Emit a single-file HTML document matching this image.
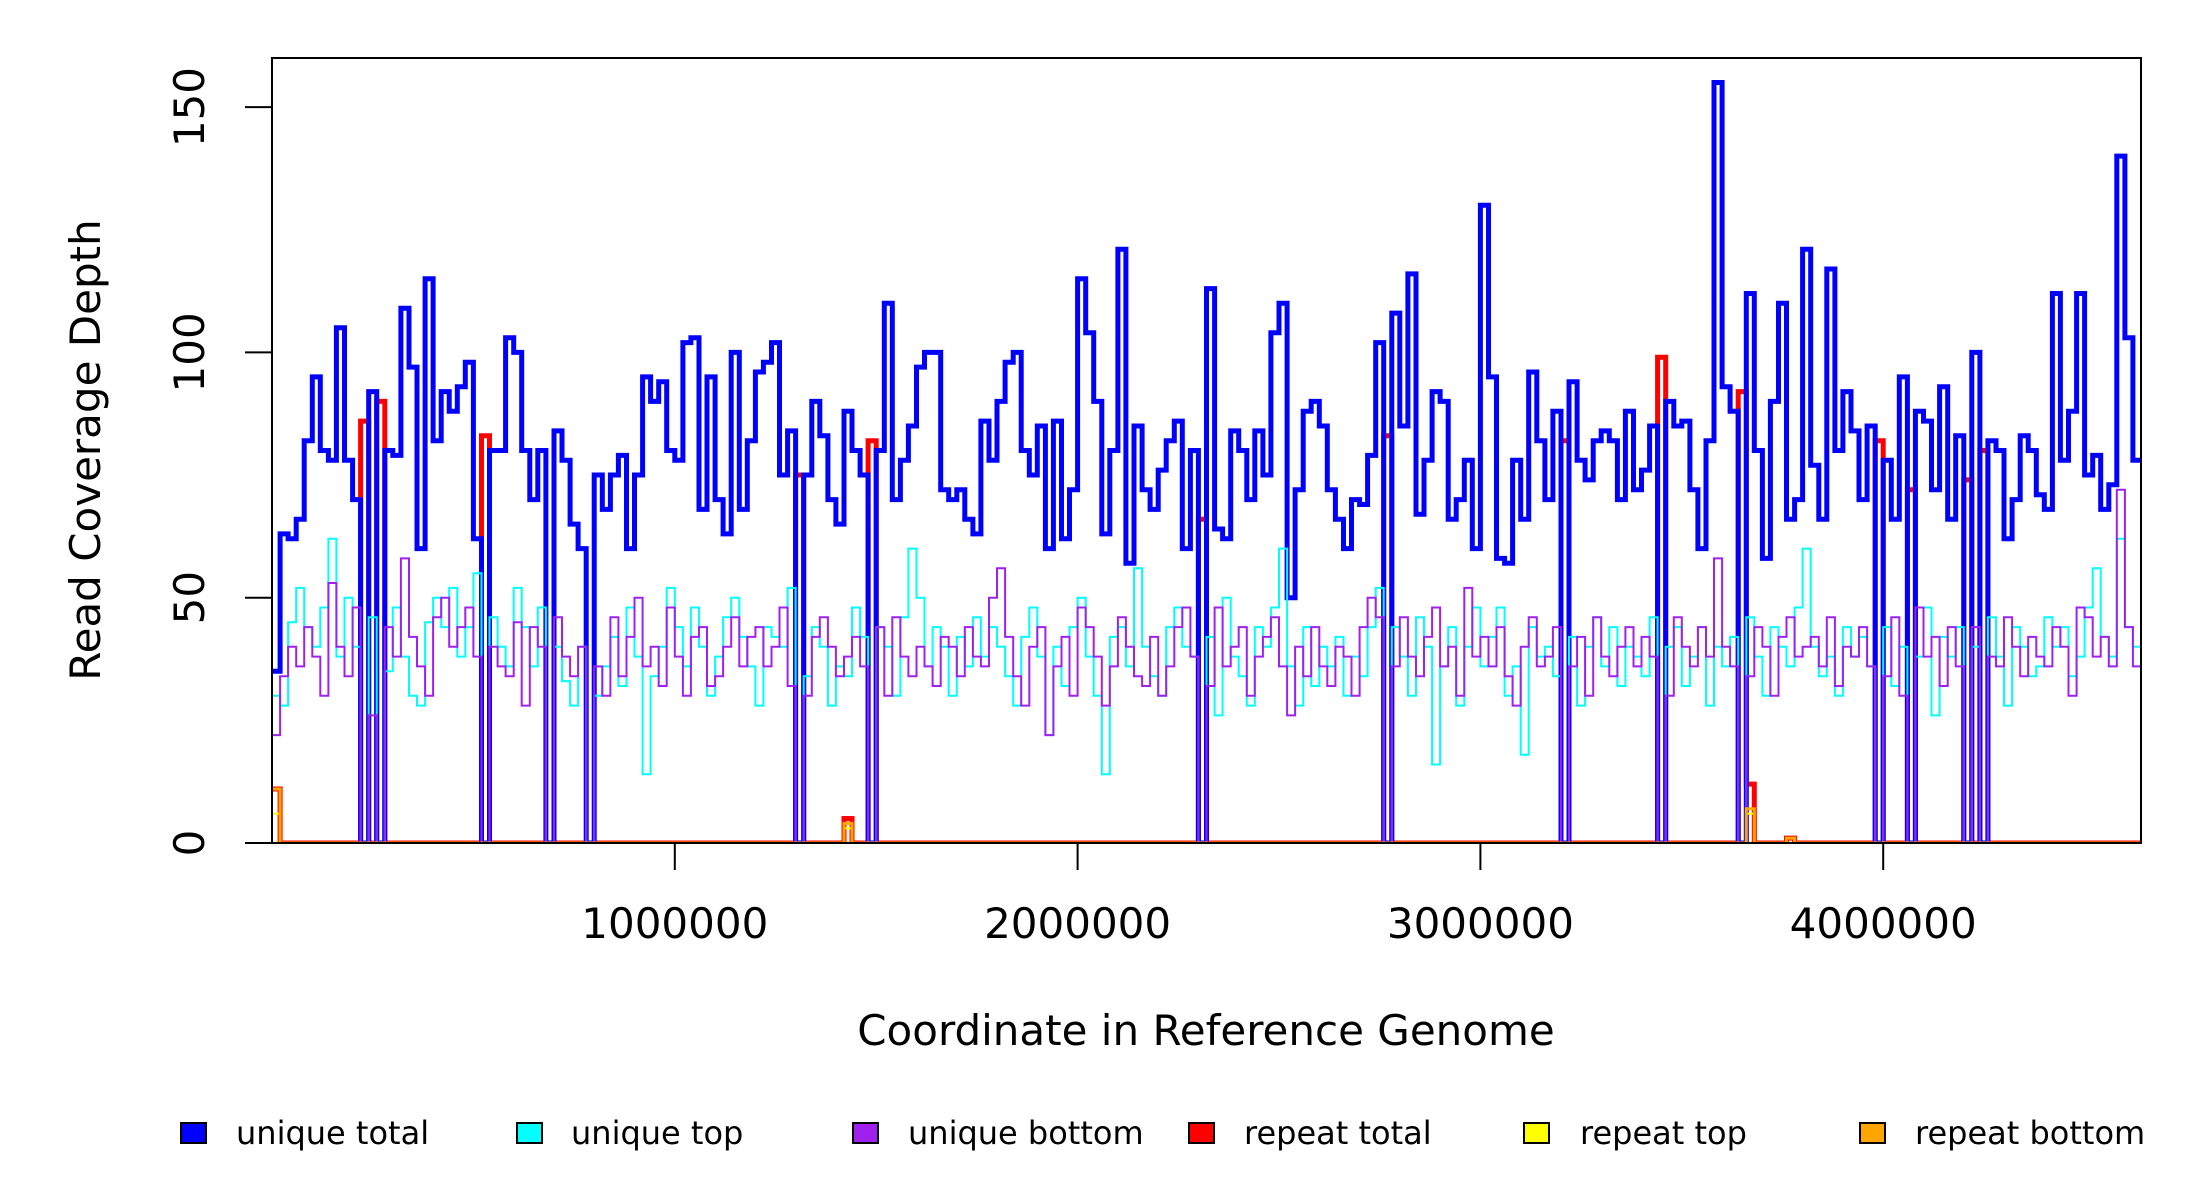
<!DOCTYPE html>
<html><head><meta charset="utf-8"><style>
html,body{margin:0;padding:0;background:#fff;}
svg{display:block;font-family:"DejaVu Sans","Liberation Sans",sans-serif;}
</style></head><body>
<svg id="chart" width="2200" height="1200" viewBox="0 0 2200 1200" xmlns="http://www.w3.org/2000/svg">
<defs><clipPath id="pc"><rect x="272" y="58" width="1869" height="785"/></clipPath></defs>
<g id="series" clip-path="url(#pc)"></g>
<rect x="272" y="58" width="1869" height="785" fill="none" stroke="#000" stroke-width="2"/>
<g id="yaxis"></g>
<g id="xaxis"></g>
<text x="0" y="0" transform="translate(100,450) rotate(-90)" text-anchor="middle" font-size="42">Read Coverage Depth</text>
<text x="1206" y="1045" text-anchor="middle" font-size="42">Coordinate in Reference Genome</text>
<g font-size="32">
 <g><rect x="181" y="1123" width="25" height="20" fill="#0000ff" stroke="#000" stroke-width="2"/><text x="236" y="1144">unique total</text></g>
 <g><rect x="517" y="1123" width="25" height="20" fill="#00ffff" stroke="#000" stroke-width="2"/><text x="571" y="1144">unique top</text></g>
 <g><rect x="853" y="1123" width="25" height="20" fill="#a020f0" stroke="#000" stroke-width="2"/><text x="908" y="1144">unique bottom</text></g>
 <g><rect x="1189" y="1123" width="25" height="20" fill="#ff0000" stroke="#000" stroke-width="2"/><text x="1244" y="1144">repeat total</text></g>
 <g><rect x="1524" y="1123" width="25" height="20" fill="#ffff00" stroke="#000" stroke-width="2"/><text x="1580" y="1144">repeat top</text></g>
 <g><rect x="1860" y="1123" width="25" height="20" fill="#ffa500" stroke="#000" stroke-width="2"/><text x="1915" y="1144">repeat bottom</text></g>
</g>
</svg>
<script>
const binSize = 20000;
const genomeLength = 4640000;
const yTicks = [0, 50, 100, 150];
const xTicks = [1000000, 2000000, 3000000, 4000000];
const xTickLabels = ["1000000", "2000000", "3000000", "4000000"];
const uniqueTotal = [35,63,62,66,82,95,80,78,105,78,
70,0,92,0,80,79,109,97,60,115,
82,92,88,93,98,62,0,80,80,103,
100,80,70,80,0,84,78,65,60,0,
75,68,75,79,60,75,95,90,94,80,
78,102,103,68,95,70,63,100,68,82,
96,98,102,75,84,0,75,90,83,70,
65,88,80,75,0,80,110,70,78,85,
97,100,100,72,70,72,66,63,86,78,
90,98,100,80,75,85,60,86,62,72,
115,104,90,63,80,121,57,85,72,68,
76,82,86,60,80,0,113,64,62,84,
80,70,84,75,104,110,50,72,88,90,
85,72,66,60,70,69,79,102,0,108,
85,116,67,78,92,90,66,70,78,60,
130,95,58,57,78,66,96,82,70,88,
0,94,78,74,82,84,82,70,88,72,
76,85,0,90,85,86,72,60,82,155,
93,88,0,112,80,58,90,110,66,70,
121,77,66,117,80,92,84,70,85,0,
78,66,95,0,88,86,72,93,66,83,
0,100,0,82,80,62,70,83,80,71,
68,112,78,88,112,75,79,68,73,140,
103,78];
const uniqueTop = [30,28,45,52,44,40,48,62,38,50,
40,0,46,0,35,48,38,30,28,45,
50,44,52,38,44,55,0,46,40,36,
52,44,36,48,0,40,33,28,40,0,
30,36,42,32,48,38,14,34,40,52,
44,36,48,40,30,38,46,50,42,36,
28,44,42,40,52,0,34,44,40,28,
36,34,48,42,0,44,40,30,46,60,
50,36,44,40,30,42,36,46,38,44,
40,34,28,42,48,38,22,40,32,44,
50,38,30,14,42,44,36,56,40,34,
30,44,48,40,38,0,42,26,50,38,
34,28,44,40,48,60,36,28,44,32,
40,36,42,30,38,34,44,52,0,44,
38,30,46,40,16,36,44,28,40,48,
36,42,48,30,36,18,44,38,40,34,
0,42,28,40,46,36,44,32,40,38,
34,46,0,40,44,32,38,44,28,40,
36,42,0,46,38,30,44,40,36,48,
60,40,34,38,30,44,38,42,36,0,
44,32,40,0,38,48,26,42,38,44,
0,40,0,46,38,28,44,40,34,36,
46,40,44,34,38,48,56,42,38,62,
44,40];
const uniqueBottom = [22,34,40,36,44,38,30,53,40,34,
48,0,26,0,44,38,58,42,36,30,
46,50,40,44,48,38,0,40,36,34,
45,28,44,40,0,46,38,34,40,0,
36,30,46,34,42,50,36,40,32,48,
38,30,42,44,32,34,40,46,36,42,
44,36,40,48,32,0,30,42,46,40,
34,38,42,36,0,44,30,46,38,34,
40,36,32,42,40,34,44,38,36,50,
56,42,34,28,40,44,22,36,42,30,
48,44,38,28,36,46,40,34,32,42,
30,36,44,48,38,0,32,48,36,40,
44,30,38,42,46,36,26,40,34,44,
36,32,40,38,30,44,50,46,0,36,
46,38,34,42,48,36,40,30,52,38,
42,36,44,34,28,40,46,36,38,44,
0,36,42,30,46,38,34,40,44,36,
42,38,0,30,46,40,36,44,38,58,
40,36,0,34,44,40,30,42,46,38,
40,42,36,46,32,40,38,44,36,0,
34,46,30,0,48,38,42,32,44,36,
0,44,0,38,36,46,40,34,42,38,
36,44,40,30,48,46,38,42,36,72,
44,36];
const repeatTotalBins = [0,11,13,26,65,71,74,115,138,160,172,182,183,188,199,203,210,212];
const repeatTotalVals = [11,86,90,83,75,5,82,66,83,82,99,92,12,1,82,72,74,80];
const repeatTopBins = [0,71,183,188];
const repeatTopVals = [6,3,6,1];
const repeatBottomBins = [0,71,183,188];
const repeatBottomVals = [11,4,7,1];

const NS = "http://www.w3.org/2000/svg";
const X0 = 272, X1 = 2141, Y0 = 843, YT = 58, YMAX = 160;
function xs(v){ return X0 + v/genomeLength*(X1-X0); }
function ys(v){ return Y0 - v/YMAX*(Y0-YT); }
const nBins = uniqueTotal.length;
function expand(bins, vals){ const a = new Array(nBins).fill(0); bins.forEach((b,i)=>{ a[b] = vals[i]; }); return a; }
function stepPath(arr){
  let d = "M" + xs(0).toFixed(1) + "," + ys(arr[0]).toFixed(1);
  for (let i=0;i<arr.length;i++){
    if (i>0) d += "V" + ys(arr[i]).toFixed(1);
    d += "H" + xs(Math.min((i+1)*binSize, genomeLength)).toFixed(1);
  }
  return d;
}
const layer = document.getElementById("series");
function addSeries(arr, color, w, name){
  const p = document.createElementNS(NS,"path");
  p.setAttribute("d", stepPath(arr));
  p.setAttribute("fill","none");
  p.setAttribute("stroke",color);
  p.setAttribute("stroke-width",w);
  p.setAttribute("stroke-linejoin","miter");
  
  
  layer.appendChild(p);
}
addSeries(expand(repeatTotalBins, repeatTotalVals), "#ff0000", 5, "repeat-total-line");
addSeries(uniqueTotal, "#0000ff", 5, "unique-total-line");
addSeries(uniqueTop, "#00ffff", 2, "unique-top-line");
addSeries(uniqueBottom, "#a020f0", 2, "unique-bottom-line");
addSeries(expand(repeatTopBins, repeatTopVals), "#ffff00", 2, "repeat-top-line");
addSeries(expand(repeatBottomBins, repeatBottomVals), "#ffa500", 3, "repeat-bottom-line");

const ya = document.getElementById("yaxis");
yTicks.forEach(t=>{
  const l = document.createElementNS(NS,"line");
  l.setAttribute("x1",245); l.setAttribute("x2",272);
  l.setAttribute("y1",ys(t)); l.setAttribute("y2",ys(t));
  l.setAttribute("stroke","#000"); l.setAttribute("stroke-width",2);
  
  
  ya.appendChild(l);
  const tx = document.createElementNS(NS,"text");
  tx.setAttribute("transform","translate(204,"+ys(t)+") rotate(-90)");
  tx.setAttribute("text-anchor","middle");
  tx.setAttribute("font-size","42");
  tx.textContent = String(t);
  
  
  ya.appendChild(tx);
});
const xa = document.getElementById("xaxis");
xTicks.forEach((t,i)=>{
  const l = document.createElementNS(NS,"line");
  l.setAttribute("x1",xs(t)); l.setAttribute("x2",xs(t));
  l.setAttribute("y1",843); l.setAttribute("y2",870);
  l.setAttribute("stroke","#000"); l.setAttribute("stroke-width",2);
  
  
  xa.appendChild(l);
  const tx = document.createElementNS(NS,"text");
  tx.setAttribute("x",xs(t)); tx.setAttribute("y",938);
  tx.setAttribute("text-anchor","middle");
  tx.setAttribute("font-size","42");
  tx.textContent = xTickLabels[i];
  
  
  xa.appendChild(tx);
});
</script>
</body></html>
